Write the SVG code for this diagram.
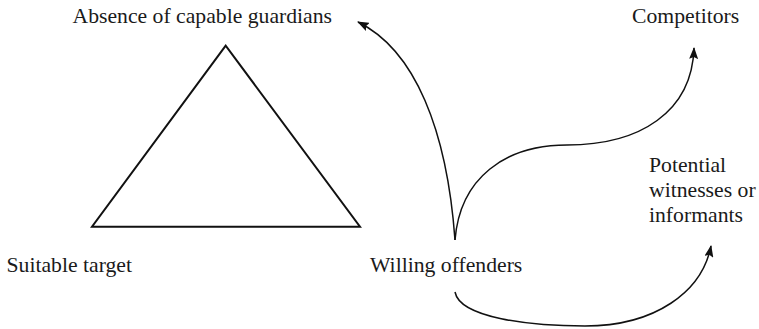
<svg xmlns="http://www.w3.org/2000/svg" width="759" height="329" viewBox="0 0 759 329">
<style>
text{font-family:"Liberation Serif","Times New Roman",serif;font-size:21.7px;fill:#1a1a1a}
.c{fill:none;stroke:#111;stroke-width:1.5}
</style>
<defs>
<marker id="ah" viewBox="0 0 12 9" refX="11" refY="4.5" markerWidth="12" markerHeight="9" markerUnits="userSpaceOnUse" orient="auto">
<path d="M0,0 L12,4.5 L0,9 L2,4.5 Z" fill="#111"/>
</marker>
</defs>
<rect width="759" height="329" fill="#fff"/>
<g id="triangle">
<polygon points="225.7,45.7 92,226.7 360,226.7" fill="none" stroke="#111" stroke-width="2"/>
</g>
<g id="guardians"><text x="72.5" y="23">Absence of capable guardians</text></g>
<g id="target"><text x="6.5" y="272">Suitable target</text></g>
<g id="offenders"><text x="370" y="272">Willing offenders</text></g>
<g id="competitors"><text x="632" y="23">Competitors</text></g>
<g id="witnesses"><text x="649" y="172">Potential</text><text x="649" y="197">witnesses or</text><text x="649" y="222">informants</text></g>
<g id="connectors">
<path class="c" d="M455,240 C447,130 415,50 358,22" marker-end="url(#ah)"/>
<path class="c" d="M455,240 C460,178 505,145 567,145 C640,145 692,112 694,48" marker-end="url(#ah)"/>
<path class="c" d="M455,292 C460,318 530,326 585,326 C655,326 702,292 711,246" marker-end="url(#ah)"/>
</g>
</svg>
